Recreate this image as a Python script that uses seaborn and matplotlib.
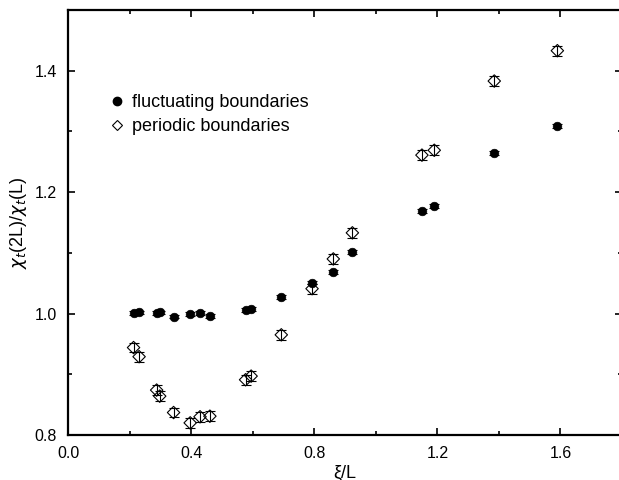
import matplotlib
matplotlib.use("Agg")
import matplotlib.pyplot as plt
from matplotlib.ticker import MultipleLocator, FormatStrFormatter
from matplotlib.lines import Line2D
import seaborn as sns
import pandas as pd

xi_L = [0.213, 0.231, 0.288, 0.298, 0.343, 0.397, 0.429, 0.461, 0.577, 0.595,
        0.693, 0.793, 0.862, 0.924, 1.150, 1.190, 1.385, 1.590]
fluctuating = [1.001, 1.002, 1.001, 1.002, 0.995, 0.999, 1.001, 0.996, 1.006, 1.008,
               1.027, 1.051, 1.069, 1.101, 1.169, 1.177, 1.265, 1.309]
fluct_err = [0.003] * 18
periodic = [0.944, 0.929, 0.874, 0.864, 0.837, 0.820, 0.830, 0.831, 0.891, 0.897,
            0.965, 1.041, 1.090, 1.133, 1.261, 1.269, 1.383, 1.433]
periodic_err = [0.008] * 18

labels = ["fluctuating boundaries", "periodic boundaries"]

sns.set_style("ticks", {"axes.edgecolor": "black", "xtick.color": "black",
                        "ytick.color": "black", "text.color": "black",
                        "axes.labelcolor": "black"})
plt.rcParams['font.family'] = ['Liberation Sans', 'DejaVu Sans']

df = pd.DataFrame({
    "x": xi_L * 2,
    "y": fluctuating + periodic,
    "err": fluct_err + periodic_err,
    "series": [labels[0]] * len(xi_L) + [labels[1]] * len(xi_L),
})

fig = plt.figure(figsize=(6.19, 4.80), dpi=100)
ax = fig.add_axes([68 / 619, 45 / 480, 554 / 619, 425 / 480])

for s in [labels[1], labels[0]]:
    d = df[df.series == s]
    ax.errorbar(d.x, d.y, yerr=d.err, fmt="none", ecolor="black",
                elinewidth=0.8, capsize=3.5, capthick=0.8, zorder=2)

d = df[df.series == labels[1]]
sns.scatterplot(x=d.x, y=d.y, ax=ax, marker="D", s=40, facecolor="none",
                edgecolor="black", linewidth=0.8, zorder=3, legend=False)
d = df[df.series == labels[0]]
sns.scatterplot(x=d.x, y=d.y, ax=ax, marker="o", s=38, color="black",
                edgecolor="black", linewidth=0.5, zorder=4, legend=False)

ax.set_xlim(0, 1.8)
ax.set_ylim(0.8, 1.5)
ax.xaxis.set_major_locator(MultipleLocator(0.4))
ax.xaxis.set_minor_locator(MultipleLocator(0.2))
ax.yaxis.set_major_locator(MultipleLocator(0.2))
ax.yaxis.set_minor_locator(MultipleLocator(0.1))
ax.xaxis.set_major_formatter(FormatStrFormatter("%.1f"))
ax.yaxis.set_major_formatter(FormatStrFormatter("%.1f"))
ax.tick_params(which="both", direction="in", top=True, right=True,
               labelsize=11.5, width=1.2, pad=8, color="black", labelcolor="black")
ax.tick_params(which="major", length=5)
ax.tick_params(which="minor", length=3)
for sp in ax.spines.values():
    sp.set_linewidth(1.6)
    sp.set_color("black")

ax.set_xlabel("ξ/L", fontsize=13, labelpad=2, color="black")
ax.set_ylabel(r"$\chi_t$(2L)/$\chi_t$(L)", fontsize=13, labelpad=4, color="black")

handles = [
    Line2D([], [], marker="o", color="black", linestyle="none", markersize=6),
    Line2D([], [], marker="D", markerfacecolor="white", markeredgecolor="black",
           linestyle="none", markersize=5.5, markeredgewidth=0.8),
]
leg = ax.legend(handles, labels, loc="upper left", bbox_to_anchor=(0.066, 0.819),
                frameon=False, fontsize=13, handlelength=0.6, handletextpad=0.5,
                labelspacing=0.4, borderaxespad=0)
for t in leg.get_texts():
    t.set_color("black")

fig.savefig("out.png", dpi=100)
